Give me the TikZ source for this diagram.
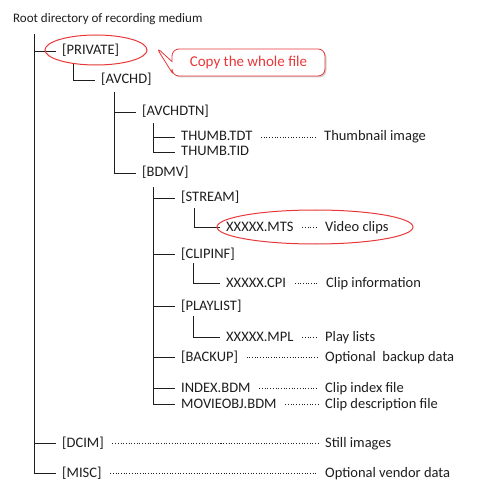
\documentclass[tikz,border=0pt]{standalone}
\usepackage{fontspec}
\setmainfont{Carlito}
\usetikzlibrary{shapes.callouts,shapes.geometric,shadows}
\definecolor{ink}{HTML}{1E1E1E}
\definecolor{mark}{HTML}{E8383A}
\begin{document}
\begin{tikzpicture}[x=1pt,y=-1pt,
  item/.style={anchor=west, inner xsep=6pt, inner ysep=0pt, text height=10pt, text depth=2pt,
    font=\fontsize{14.5}{17}\selectfont, text=ink},
  desc/.style={item, inner xsep=7pt},
  tree/.style={line width=0.9pt, ink},
  lead/.style={line width=0.9pt, ink, dash pattern=on 1pt off 1.7pt, shorten <=2.5pt},
  ring/.style={draw=mark, line width=1pt, ellipse, inner sep=0pt}]
\useasboundingbox (0,0) rectangle (480,502);
\fill[white] (0,0) rectangle (480,502);

% nodes
\node[item, inner xsep=0pt, font=\fontsize{13}{16}\selectfont] (root) at (13,19) {Root directory of recording medium};
\node[item] (priv) at (56,51) {[PRIVATE]};
\node[item] (avchd) at (95,80) {[AVCHD]};
\node[item] (avchdtn) at (136,112) {[AVCHDTN]};
\node[item] (tdt) at (175,137) {THUMB.TDT};
\node[item] (tid) at (175,152) {THUMB.TID};
\node[item] (bdmv) at (136,173) {[BDMV]};
\node[item] (stream) at (175,198) {[STREAM]};
\node[item] (mts) at (220,227) {XXXXX.MTS};
\node[item] (clipinf) at (175,254) {[CLIPINF]};
\node[item] (cpi) at (220,283) {XXXXX.CPI};
\node[item] (playlist) at (175,306) {[PLAYLIST]};
\node[item] (mpl) at (220,337) {XXXXX.MPL};
\node[item] (backup) at (175,357) {[BACKUP]};
\node[item] (index) at (175,388) {INDEX.BDM};
\node[item] (movie) at (175,404) {MOVIEOBJ.BDM};
\node[item] (dcim) at (56,443) {[DCIM]};
\node[item] (misc) at (56,473) {[MISC]};

% descriptions
\node[desc] (dtdt) at (317,137) {Thumbnail image};
\node[desc] (dmts) at (318,227) {Video clips};
\node[desc] (dcpi) at (319,283) {Clip information};
\node[desc] (dmpl) at (318,337) {Play lists};
\node[desc] (dbackup) at (318,357) {Optional\ \ backup data};
\node[desc] (dindex) at (318,388) {Clip index file};
\node[desc] (dmovie) at (318,404) {Clip description file};
\node[desc] (ddcim) at (318,443) {Still images};
\node[desc] (dmisc) at (318,473) {Optional vendor data};

% tree
\coordinate (v0) at (34,34);
\coordinate (v1) at (73,63);
\coordinate (v2) at (114,92);
\coordinate (v3) at (153,123);
\coordinate (v4) at (153,187);
\coordinate (v5) at (194,208);
\coordinate (v6) at (193,263);
\coordinate (v7) at (193,316);

\draw[tree] (v0) |- (misc.west);
\foreach \n in {priv,dcim} \draw[tree] (v0 |- \n.west) -- (\n.west);
\draw[tree] (v1) |- (avchd.west);
\draw[tree] (v2) |- (bdmv.west);
\draw[tree] (v2 |- avchdtn.west) -- (avchdtn.west);
\draw[tree] (v3) |- (tid.west);
\draw[tree] (v3 |- tdt.west) -- (tdt.west);
\draw[tree] (v4) |- (movie.west);
\foreach \n in {stream,clipinf,playlist,backup,index} \draw[tree] (v4 |- \n.west) -- (\n.west);
\draw[tree] (v5) |- (mts.west);
\draw[tree] (v6) |- (cpi.west);
\draw[tree] (v7) |- (mpl.west);

% leaders
\draw[lead] (tdt.east) -- (dtdt.west);
\draw[lead] (mts.east) -- (dmts.west);
\draw[lead] (cpi.east) -- (dcpi.west);
\draw[lead] (mpl.east) -- (dmpl.west);
\draw[lead] (backup.east) -- (dbackup.west);
\draw[lead] (index.east) -- (dindex.west);
\draw[lead] (movie.east) -- (dmovie.west);
\draw[lead] (dcim.east) -- (ddcim.west);
\draw[lead] (misc.east) -- (dmisc.west);

% highlights
\node[ring, minimum width=102pt, minimum height=30pt] (privring) at (96,50) {};
\node[ring, minimum width=196pt, minimum height=34pt] (mtsring) at (315,227) {};

\node[rectangle callout, draw=mark, line width=0.8pt, fill=white, rounded corners=7pt,
  minimum width=153pt, minimum height=27pt, inner sep=0pt,
  callout absolute pointer={(156,47)}, callout pointer width=11pt,
  drop shadow={shadow xshift=1.5pt, shadow yshift=-1.5pt, opacity=0.35},
  text=mark, font=\fontsize{15}{17}\selectfont] (callout) at (248.5,62.5) {Copy the whole file};
\end{tikzpicture}
\end{document}
